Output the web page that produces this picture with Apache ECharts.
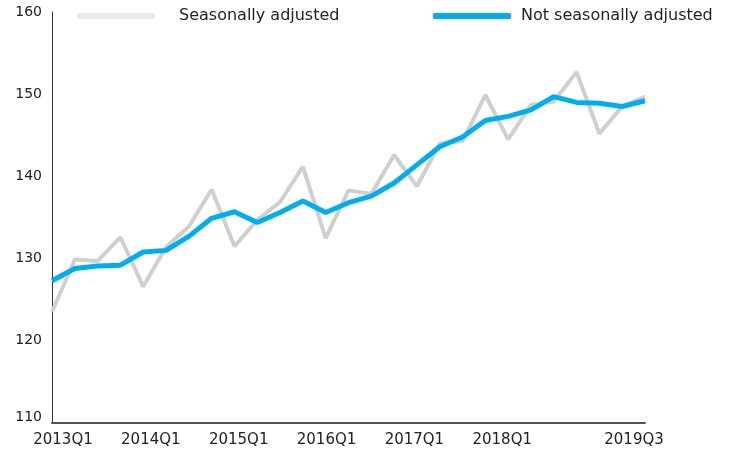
<!DOCTYPE html>
<html><head><meta charset="utf-8">
<script src="https://cdn.jsdelivr.net/npm/echarts@6/dist/echarts.min.js"></script>
<style>html,body{margin:0;padding:0;background:#fff}#c{width:729px;height:452px}</style>
</head><body><div id="c"></div>
<script>
const categories = ['2013Q1','2013Q2','2013Q3','2013Q4','2014Q1','2014Q2','2014Q3','2014Q4','2015Q1','2015Q2','2015Q3','2015Q4','2016Q1','2016Q2','2016Q3','2016Q4','2017Q1','2017Q2','2017Q3','2017Q4','2018Q1','2018Q2','2018Q3','2018Q4','2019Q1','2019Q2','2019Q3'];
const seasonallyAdjusted = [123.5,129.9,129.7,132.6,126.6,131.4,133.9,138.4,131.5,134.7,136.9,141.2,132.5,138.3,137.9,142.6,138.8,144.0,144.3,149.9,144.5,148.7,149.1,152.7,145.2,148.5,149.7];
const notSeasonallyAdjusted = [127.3,128.8,129.1,129.2,130.8,131.0,132.7,134.9,135.7,134.4,135.6,137.0,135.6,136.8,137.6,139.2,141.4,143.6,144.8,146.8,147.3,148.1,149.7,149.0,148.9,148.5,149.2];
const shownLabels = ['2013Q1','2014Q1','2015Q1','2016Q1','2017Q1','2018Q1','2019Q3'];
const yTicks = [110,120,130,140,150,160];

const FONT = 'DejaVu Sans';
const chart = echarts.init(document.getElementById('c'), null, {renderer:'canvas'});
chart.setOption({
  animation:false,
  backgroundColor:'#fff',
  grid:{left:52,right:84,top:12,bottom:29,containLabel:false},
  legend:[
    {left:72,top:3,itemWidth:78,itemHeight:6,icon:'roundRect',itemGap:0,
     textStyle:{fontFamily:FONT,fontSize:16,color:'#222',padding:[0,0,0,19]},
     data:[{name:'Seasonally adjusted',itemStyle:{color:'#ebebeb'}}]},
    {left:428,top:3,itemWidth:78,itemHeight:6,icon:'roundRect',itemGap:0,
     textStyle:{fontFamily:FONT,fontSize:16,color:'#222',padding:[0,0,0,5]},
     data:[{name:'Not seasonally adjusted',itemStyle:{color:'#00aeef'}}]}
  ],
  xAxis:[
    {type:'category',data:categories,boundaryGap:false,
     axisLine:{show:true,lineStyle:{color:'#555',width:2}},axisTick:{show:false},
     axisLabel:{show:false},splitLine:{show:false}},
    {type:'category',data:categories,boundaryGap:true,position:'bottom',
     axisLine:{show:false},axisTick:{show:false},splitLine:{show:false},
     axisLabel:{margin:10,fontFamily:FONT,fontSize:15,color:'#222',
       interval:(i,v)=>shownLabels.indexOf(v)>=0}}
  ],
  yAxis:{type:'value',min:yTicks[0],max:yTicks[yTicks.length-1],interval:10,
    axisLine:{show:true,lineStyle:{color:'#333',width:1}},axisTick:{show:false},
    splitLine:{show:false},
    axisLabel:{margin:10,fontFamily:FONT,fontSize:14,color:'#222',
      formatter:v=>v===yTicks[0]?'{lo|'+v+'}':String(v),
      rich:{lo:{fontFamily:FONT,fontSize:14,color:'#222',padding:[0,0,11,0]}}}},
  series:[
    {name:'Seasonally adjusted',type:'line',xAxisIndex:0,data:seasonallyAdjusted,
     symbol:'none',lineStyle:{color:'#cfcfcf',width:4},itemStyle:{color:'#cfcfcf'},z:2},
    {name:'Not seasonally adjusted',type:'line',xAxisIndex:0,data:notSeasonallyAdjusted,
     symbol:'none',lineStyle:{color:'#00aeef',width:5},itemStyle:{color:'#00aeef'},z:3}
  ]
});
</script></body></html>
